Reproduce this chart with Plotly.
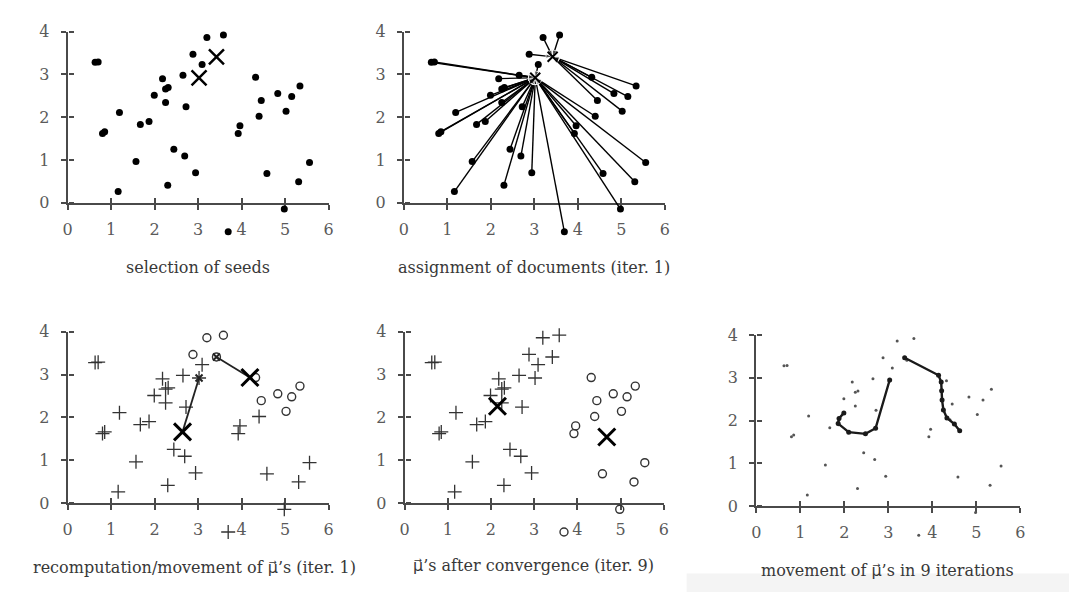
import plotly.graph_objects as go

W, H = 1074, 602

# ---------------- data ----------------
doc_x = [0.63, 0.70, 0.80, 0.85, 1.19, 1.16, 1.57, 1.67, 1.87, 1.99,
         2.18, 2.25, 2.31, 2.25, 2.44, 2.30, 2.65, 2.69, 2.72, 2.94,
         2.88, 3.09, 3.20, 3.58, 3.69, 3.92, 3.96, 4.32, 4.45, 4.40,
         4.58, 4.83, 5.02, 5.15, 5.34, 4.98, 5.31, 5.56, 3.02, 3.42]
doc_y = [3.28, 3.29, 1.62, 1.66, 2.11, 0.26, 0.96, 1.83, 1.90, 2.51,
         2.90, 2.66, 2.69, 2.34, 1.25, 0.41, 2.98, 1.09, 2.24, 0.70,
         3.47, 3.23, 3.86, 3.92, -0.68, 1.62, 1.80, 2.93, 2.39, 2.02,
         0.68, 2.55, 2.14, 2.48, 2.73, -0.15, 0.49, 0.94, 2.92, 3.41]
seed_idx = [38, 39]
label_iter1 = [0, 0, 0, 0, 0, 0, 0, 0, 0, 0,
               0, 0, 0, 0, 0, 0, 0, 0, 0, 0,
               1, 0, 1, 1, 0, 0, 0, 1, 1, 0,
               0, 1, 1, 1, 1, 0, 0, 0, 0, 1]
label_final = [0, 0, 0, 0, 0, 0, 0, 0, 0, 0,
               0, 0, 0, 0, 0, 0, 0, 0, 0, 0,
               0, 0, 0, 0, 1, 1, 1, 1, 1, 1,
               1, 1, 1, 1, 1, 1, 1, 1, 0, 0]
cent_iter1_x = [2.64, 4.19]
cent_iter1_y = [1.66, 2.93]
cent_final_x = [2.15, 4.68]
cent_final_y = [2.26, 1.54]
traj_a_x = [3.03, 2.71, 2.48, 2.10, 1.86, 1.88, 1.99]
traj_a_y = [2.95, 1.82, 1.69, 1.73, 1.93, 2.05, 2.18]
traj_b_x = [3.37, 4.14, 4.20, 4.21, 4.22, 4.25, 4.33, 4.50, 4.62]
traj_b_y = [3.47, 3.06, 2.90, 2.70, 2.48, 2.25, 2.06, 1.92, 1.76]
x_ticks = [0, 1, 2, 3, 4, 5, 6]
y_ticks = [0, 1, 2, 3, 4]
MU = '<span style="font-family:\'DejaVu Sans\'">μ\u20d7</span>'
captions = ["selection of seeds",
            "assignment of documents (iter. 1)",
            "recomputation/movement of " + MU + "\u2019s (iter. 1)",
            MU + "\u2019s after convergence (iter. 9)",
            "movement of " + MU + "\u2019s in 9 iterations"]

# ---------------- layout geometry (pixels) ----------------
panels = [
    dict(x0=63.3, x6=326.7, y0=200.0, y4=23.3, cx=195, cy=267),
    dict(x0=402.7, x6=666.0, y0=200.0, y4=23.3, cx=534, cy=267),
    dict(x0=63.3, x6=326.7, y0=510.0, y4=333.3, cx=191, cy=577),
    dict(x0=403.3, x6=665.0, y0=510.0, y4=333.3, cx=533, cy=575),
    dict(x0=758.3, x6=1025.0, y0=513.3, y4=336.7, cx=891, cy=580),
]
YLO, YHI = -1.0, 4.2
FONT = "DejaVu Serif"
AXC = "#4a4a4a"
TXC = "#5a5a5a"

fig = go.Figure()
layout = dict(width=W, height=H, margin=dict(l=0, r=0, t=0, b=0),
              paper_bgcolor="white", plot_bgcolor="rgba(0,0,0,0)",
              showlegend=False, annotations=[], shapes=[])


def axname(n, kind):
    return kind + ("" if n == 1 else str(n))


for i, p in enumerate(panels):
    f, d = 2 * i + 1, 2 * i + 2
    py = (p["y0"] - p["y4"]) / 4.0
    xdom = [p["x0"] / W, p["x6"] / W]
    yfdom = [1 - p["y0"] / H, 1 - p["y4"] / H]
    yddom = [1 - (p["y0"] - YLO * py) / H, 1 - (p["y4"] - (YHI - 4) * py) / H]
    common = dict(showgrid=False, zeroline=False, fixedrange=True)
    layout[axname(f, "xaxis")] = dict(
        domain=xdom, range=[0, 6], anchor=axname(f, "y"), showline=True,
        linecolor=AXC, linewidth=2, ticks="outside", ticklen=5, tickwidth=2,
        tickcolor=AXC, tickvals=x_ticks, ticktext=[str(v) for v in x_ticks],
        tickfont=dict(family=FONT, size=16, color=TXC), ticklabelstandoff=6,
        **common)
    layout[axname(f, "yaxis")] = dict(
        domain=yfdom, range=[0, 4], anchor=axname(f, "x"), showline=True,
        linecolor=AXC, linewidth=2, ticks="outside", ticklen=5, tickwidth=2,
        tickcolor=AXC, tickvals=y_ticks, ticktext=[str(v) for v in y_ticks],
        tickfont=dict(family=FONT, size=16, color=TXC), ticklabelstandoff=8,
        **common)
    layout[axname(d, "xaxis")] = dict(
        domain=xdom, range=[0, 6], anchor="free", position=yfdom[0],
        showline=False, ticks="inside", ticklen=5, tickwidth=2, tickcolor=AXC,
        tickvals=x_ticks, showticklabels=False, **common)
    layout[axname(d, "yaxis")] = dict(
        domain=yddom, range=[YLO, YHI], anchor="free", position=xdom[0],
        showline=False, ticks="inside", ticklen=5, tickwidth=2, tickcolor=AXC,
        tickvals=y_ticks, showticklabels=False, **common)
    layout["annotations"].append(dict(
        text=captions[i], x=p["cx"] / W, y=1 - p["cy"] / H, xref="paper",
        yref="paper", xanchor="center", yanchor="middle", showarrow=False,
        font=dict(family=FONT, size=16, color="#383838")))
    # empty trace so the frame subplot (axes only) is created
    fig.add_trace(go.Scatter(x=[], y=[], xaxis=axname(f, "x"),
                             yaxis=axname(f, "y"), hoverinfo="skip"))

layout["shapes"].append(dict(type="rect", xref="paper", yref="paper",
                             x0=688 / W, x1=1.0, y0=0, y1=1 - 583 / H,
                             fillcolor="#f4f4f4", line=dict(width=0),
                             layer="below"))


def ref(i):
    d = 2 * i + 2
    return dict(xaxis=axname(d, "x"), yaxis=axname(d, "y"), cliponaxis=False,
                hoverinfo="skip")


non_seed = [k for k in range(len(doc_x)) if k not in seed_idx]
sx = [doc_x[k] for k in seed_idx]
sy = [doc_y[k] for k in seed_idx]

# ---- panel 1: selection of seeds ----
fig.add_trace(go.Scatter(x=[doc_x[k] for k in non_seed],
                         y=[doc_y[k] for k in non_seed], mode="markers",
                         marker=dict(size=7, color="black"), **ref(0)))
fig.add_trace(go.Scatter(x=sx, y=sy, mode="markers",
                         marker=dict(symbol="x-thin", size=15, color="black",
                                     line=dict(width=2.5, color="black")),
                         **ref(0)))

# ---- panel 2: assignment of documents ----
lx, ly, ls = [], [], []
for k in non_seed:
    c = label_iter1[k]
    lx += [doc_x[k], sx[c], None]
    ly += [doc_y[k], sy[c], None]
    ls += [0, 7, 0]
fig.add_trace(go.Scatter(x=lx, y=ly, mode="lines+markers",
                         line=dict(color="black", width=1.4),
                         marker=dict(symbol="arrow", angleref="previous",
                                     size=ls, color="black"), **ref(1)))
fig.add_trace(go.Scatter(x=[doc_x[k] for k in non_seed],
                         y=[doc_y[k] for k in non_seed], mode="markers",
                         marker=dict(size=7, color="black"), **ref(1)))
fig.add_trace(go.Scatter(x=sx, y=sy, mode="markers",
                         marker=dict(symbol="x-thin", size=10, color="black",
                                     line=dict(width=2, color="black")),
                         **ref(1)))


def cluster_traces(i, labels):
    a = [k for k in range(len(doc_x)) if labels[k] == 0]
    b = [k for k in range(len(doc_x)) if labels[k] == 1]
    fig.add_trace(go.Scatter(x=[doc_x[k] for k in a], y=[doc_y[k] for k in a],
                             mode="markers",
                             marker=dict(symbol="cross-thin", size=10,
                                         color="#333333",
                                         line=dict(width=1.3, color="#333333")),
                             **ref(i)))
    fig.add_trace(go.Scatter(x=[doc_x[k] for k in b], y=[doc_y[k] for k in b],
                             mode="markers",
                             marker=dict(symbol="circle-open", size=8,
                                         color="#333333",
                                         line=dict(width=1.4, color="#333333")),
                             **ref(i)))


# ---- panel 3: recomputation ----
cluster_traces(2, label_iter1)
mx, my = [], []
for c in range(2):
    mx += [sx[c], cent_iter1_x[c], None]
    my += [sy[c], cent_iter1_y[c], None]
fig.add_trace(go.Scatter(x=mx, y=my, mode="lines",
                         line=dict(color="#222222", width=1.8), **ref(2)))
fig.add_trace(go.Scatter(x=sx, y=sy, mode="markers",
                         marker=dict(symbol="x-thin", size=7, color="#222222",
                                     line=dict(width=2, color="#222222")),
                         **ref(2)))
fig.add_trace(go.Scatter(x=cent_iter1_x, y=cent_iter1_y, mode="markers",
                         marker=dict(symbol="x-thin", size=17, color="black",
                                     line=dict(width=3, color="black")),
                         **ref(2)))

# ---- panel 4: after convergence ----
cluster_traces(3, label_final)
fig.add_trace(go.Scatter(x=cent_final_x, y=cent_final_y, mode="markers",
                         marker=dict(symbol="x-thin", size=17, color="black",
                                     line=dict(width=3, color="black")),
                         **ref(3)))

# ---- panel 5: movement of centroids ----
fig.add_trace(go.Scatter(x=doc_x, y=doc_y, mode="markers",
                         marker=dict(size=3, color="#555555"), **ref(4)))
for tx, ty in [(traj_a_x, traj_a_y), (traj_b_x, traj_b_y)]:
    fig.add_trace(go.Scatter(x=tx, y=ty, mode="lines+markers",
                             line=dict(color="#1a1a1a", width=2.4),
                             marker=dict(size=5, color="#1a1a1a"), **ref(4)))

fig.update_layout(**layout)
fig.write_html("out.html")
